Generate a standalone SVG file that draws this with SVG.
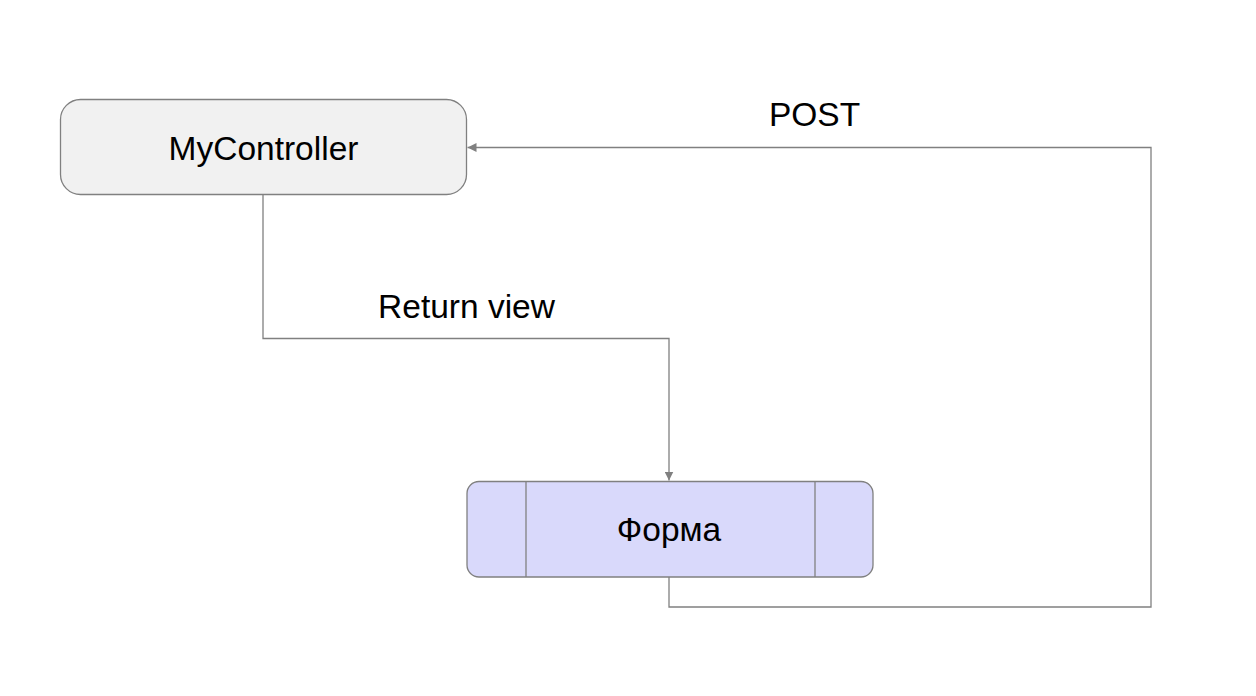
<svg xmlns="http://www.w3.org/2000/svg" width="1256" height="696" viewBox="0 0 1256 696">
  <style>
    .box { stroke: #808080; stroke-width: 1.3; }
    .lbl { font-family: "Liberation Sans", Arial, sans-serif; font-size: 33.5px; fill: #000; text-anchor: middle; }
    .conn { fill: none; stroke: #808080; stroke-width: 1.3; }
  </style>
  <defs>
    <marker id="arr" viewBox="0 0 10 10" refX="10" refY="5" markerWidth="9" markerHeight="9" markerUnits="userSpaceOnUse" orient="auto">
      <path d="M0,0 L10,5 L0,10 z" fill="#808080"/>
    </marker>
  </defs>
  <rect width="1256" height="696" fill="#ffffff"/>
  <g id="connectors">
    <path class="conn" d="M263,195 V338.5 H669 V480.5" marker-end="url(#arr)"/>
    <path class="conn" d="M669,577 V607 H1151 V147.5 H467.5" marker-end="url(#arr)"/>
  </g>
  <g id="node-mycontroller">
    <rect class="box" x="60.5" y="99.5" width="406" height="95" rx="20" ry="20" fill="#f1f1f1"/>
    <text class="lbl" x="263.5" y="160">MyController</text>
  </g>
  <g id="node-forma">
    <rect class="box" x="467" y="481.5" width="406" height="95.5" rx="12" ry="12" fill="#d9d9fb"/>
    <line class="box" x1="526" y1="481.5" x2="526" y2="577"/>
    <line class="box" x1="815" y1="481.5" x2="815" y2="577"/>
    <text class="lbl" x="669" y="541">Форма</text>
  </g>
  <g id="labels">
    <text class="lbl" x="466.5" y="318">Return view</text>
    <text class="lbl" x="814.5" y="126">POST</text>
  </g>
</svg>
